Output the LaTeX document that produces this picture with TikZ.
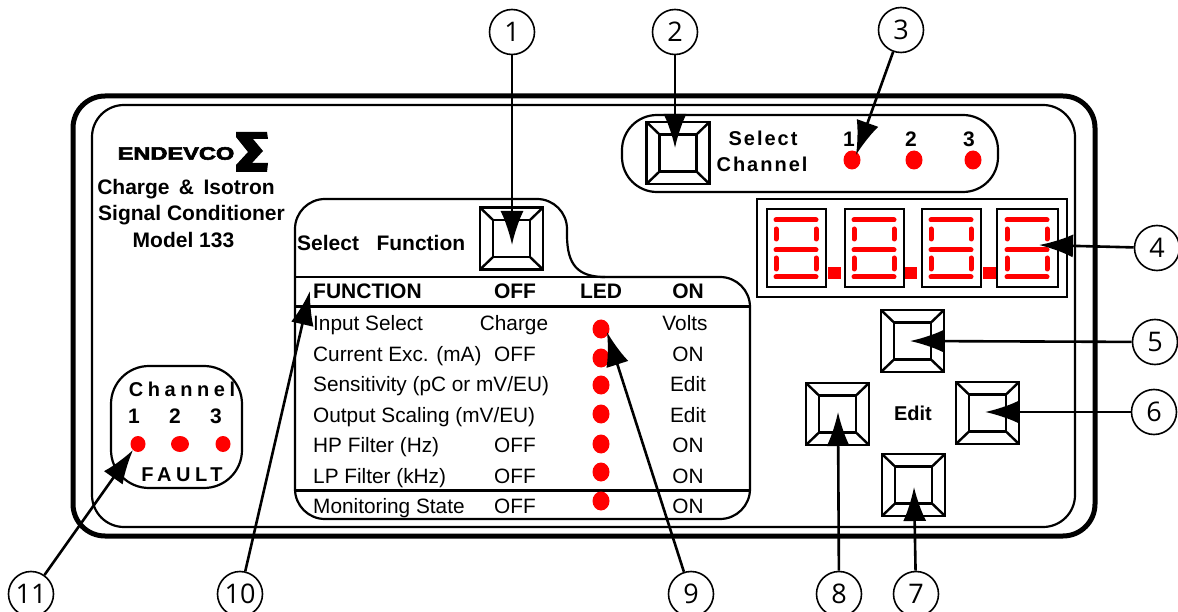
\documentclass[tikz,border=0pt]{standalone}
\usepackage{fontspec}
\setmainfont{Liberation Sans}
\newfontfamily\spacedfont[LetterSpace=10]{Liberation Sans}
\newfontfamily\widefont[LetterSpace=23]{Liberation Sans}
\newfontfamily\logofont[FakeBold=3]{Liberation Sans Bold}
\newfontfamily\calloutfont{Open Sans}
\usetikzlibrary{arrows.meta}
\tikzset{%
  pointer/.style  = {draw, line width=2.6pt, -{Latex[length=34pt,width=23pt]}},%
  callout/.style  = {circle, draw, line width=1.6pt, fill=white, inner sep=0pt,%
                     minimum size=45pt, font=\fontsize{27}{27}\selectfont\calloutfont},%
  panelline/.style = {draw, line width=2.2pt},%
  head/.style     = {inner sep=0pt, text height=15pt, text depth=0pt, font=\fontsize{21}{22}\selectfont\bfseries},%
  rowtext/.style  = {inner sep=0pt, text height=15pt, text depth=0pt, font=\fontsize{20.8}{22}\selectfont},%
  spaced/.style   = {inner sep=0pt, text height=14pt, text depth=0pt, font=\fontsize{20}{22}\selectfont\spacedfont\bfseries},%
  wide/.style     = {inner sep=0pt, text height=14pt, text depth=0pt, font=\fontsize{20}{22}\selectfont\widefont\bfseries},%
  led/.style      = {ellipse, fill=red, inner sep=0pt, minimum width=17pt, minimum height=19pt},%
  dotpoint/.style = {red, fill=red},%
  keybtn/.pic = {%
    \draw[line width=2.4pt] (-31.5,-31) rectangle (31.5,31);
    \draw[line width=2.4pt] (-18.5,-18.5) rectangle (18.5,18.5);
    \draw[line width=2.4pt] (-31.5,-31) -- (-18.5,-18.5) (31.5,-31) -- (18.5,-18.5)
      (-31.5,31) -- (-18.5,18.5) (31.5,31) -- (18.5,18.5);
  },%
  segdigit/.pic = {%
    \draw[red, line width=5pt, line cap=round]
      (-20,-30) -- (20,-30) (-20,0) -- (20,0) (-20,27) -- (20,27)
      (-20,-21) -- (-20,-11) (20,-21) -- (20,-11)
      (-20,8) -- (-20,19) (20,8) -- (20,19);
  }%
}
\usetikzlibrary{shapes.geometric}
\begin{document}
\begin{tikzpicture}[x=1pt,y=-1pt]
  \useasboundingbox (0,0) rectangle (1178,612);
  % housing
  \draw[line width=5pt,rounded corners=32] (73,96) rectangle (1095,536);
  \draw[line width=2.2pt,rounded corners=32] (92,105) rectangle (1075,527);
  % logo
  \node[inner sep=0pt,xscale=1.31,font=\fontsize{18}{18}\selectfont\logofont] (logo) at (176,153.5) {ENDEVCO};
  \fill (236,132) -- (267,132) -- (268,139) -- (253,139) -- (263,151) -- (252,163) -- (268,163)
    -- (267,172) -- (236,172) -- (236,165) -- (248,152) -- (236,137) -- cycle;
  \node[head] (charge) at (186,187) {Charge \,\&\, Isotron};
  \node[head] (signal) at (191.5,213) {Signal Conditioner};
  \node[head] (model) at (183.5,240) {Model 133};
  % select channel
  \draw[panelline,rounded corners=35] (622,115) rectangle (998,192);
  \pic at (678,153) {keybtn};
  \node[spaced] (selectch) at (763,139) {Select};
  \node[spaced] (channelch) at (762,165) {Channel};
  \node[head] (chone) at (849,139) {1};
  \node[head] (chtwo) at (911,139) {2};
  \node[head] (chthree) at (969,139) {3};
  \node[led] (ledone) at (852,160) {};
  \node[led] (ledtwo) at (914,160) {};
  \node[led] (ledthree) at (973,160) {};
  % display
  \draw[line width=2.2pt] (757,199) rectangle (1067,297);
  \draw[line width=2.2pt] (767,209) rectangle (826,287);
  \draw[line width=2.2pt] (845,209) rectangle (904,287);
  \draw[line width=2.2pt] (922,209) rectangle (981,287);
  \draw[line width=2.2pt] (997,209) rectangle (1058,287);
  \pic at (796,250) {segdigit};
  \pic at (874,250) {segdigit};
  \pic at (951,250) {segdigit};
  \pic at (1027,250) {segdigit};
  \fill[dotpoint] (828,267) rectangle (841,279);
  \fill[dotpoint] (905,267) rectangle (917,279);
  \fill[dotpoint] (983,267) rectangle (996,279);
  % edit keys
  \pic at (912.5,341) {keybtn};
  \pic at (987.5,413) {keybtn};
  \pic at (913.5,485) {keybtn};
  \pic at (837.5,414) {keybtn};
  \node[head,font=\fontsize{20}{22}\selectfont\bfseries] (edit) at (913,413) {Edit};
  % fault panel
  \draw[panelline,rounded corners=38] (111,366) rectangle (242,488);
  \node[wide] (channelf) at (182,389) {Channel};
  \node[head] (fone) at (134,416) {1};
  \node[head] (ftwo) at (175,416) {2};
  \node[head] (fthree) at (216,416) {3};
  \node[led,minimum width=15pt,minimum height=16pt] (ledfone) at (138,444) {};
  \node[led,minimum width=18pt,minimum height=16pt] (ledftwo) at (180,444) {};
  \node[led,minimum width=15pt,minimum height=16pt] (ledfthree) at (223,444) {};
  \node[wide] (fault) at (182,474) {FAULT};
  % function panel
  \draw[panelline,rounded corners=30] (567,235) -- (567,199) -- (295,199) -- (295,519) -- (750,519)
    -- (750,277) -- (600,277);
  \draw[panelline] (567,235) .. controls (567,265) and (578,277) .. (605,277);
  \draw[panelline] (295,277) -- (600,277);
  \draw[line width=3pt] (295,307) -- (750,307);
  \draw[line width=3pt] (295,490) -- (750,490);
  \node[head,anchor=west] (selectfn) at (297,243) {Select \ \ Function};
  \pic at (511.5,238.5) {keybtn};
  \node[head,anchor=west] (hfunction) at (313,291) {FUNCTION};
  \node[head] (hoff) at (515,291) {OFF};
  \node[head] (hled) at (601,291) {LED};
  \node[head] (hon) at (688,291) {ON};
  \node[rowtext,anchor=west] (rowa) at (313,323) {Input Select};
  \node[rowtext,anchor=west] (rowb) at (313,354) {Current Exc. (mA)};
  \node[rowtext,anchor=west] (rowc) at (313,384) {Sensitivity (pC or mV/EU)};
  \node[rowtext,anchor=west] (rowd) at (313,415) {Output Scaling (mV/EU)};
  \node[rowtext,anchor=west] (rowe) at (313,445) {HP Filter (Hz)};
  \node[rowtext,anchor=west] (rowf) at (313,476) {LP Filter (kHz)};
  \node[rowtext,anchor=west] (rowg) at (313,506) {Monitoring State};
  \node[rowtext] (offa) at (514,323) {Charge};
  \node[rowtext] (offb) at (515,354) {OFF};
  \node[rowtext] (offe) at (515,445) {OFF};
  \node[rowtext] (offf) at (515,476) {OFF};
  \node[rowtext] (offg) at (515,506) {OFF};
  \node[rowtext] (ona) at (685,323) {Volts};
  \node[rowtext] (onb) at (688,354) {ON};
  \node[rowtext] (onc) at (688,384) {Edit};
  \node[rowtext] (ond) at (688,415) {Edit};
  \node[rowtext] (one) at (688,445) {ON};
  \node[rowtext] (onf) at (688,476) {ON};
  \node[rowtext] (ong) at (688,506) {ON};
  \node[led] (leda) at (601,329) {};
  \node[led] (ledb) at (601,358) {};
  \node[led] (ledc) at (601,385) {};
  \node[led] (ledd) at (601,414) {};
  \node[led] (lede) at (601,444) {};
  \node[led] (ledf) at (601,472) {};
  \node[led] (ledg) at (601,501) {};
  % callouts
  \node[callout] (nI) at (512,32) {1};
  \node[callout] (nII) at (675,32) {2};
  \node[callout] (nIII) at (901,30) {3};
  \node[callout] (nIV) at (1157,248) {4};
  \node[callout] (nV) at (1155,342) {5};
  \node[callout] (nVI) at (1154,412) {6};
  \node[callout] (nVII) at (916,594) {7};
  \node[callout] (nVIII) at (839,594) {8};
  \node[callout] (nIX) at (691,594) {9};
  \node[callout] (nX) at (240,594) {10};
  \node[callout] (nXI) at (31,594) {11};
  \coordinate (tI) at (512,245);
  \coordinate (tII) at (675,148);
  \coordinate (tIII) at (856,155);
  \coordinate (tIV) at (1039,245);
  \coordinate (tV) at (910,341);
  \coordinate (tVI) at (985,412);
  \coordinate (tVII) at (914,487);
  \coordinate (tVIII) at (838,412);
  \coordinate (tIX) at (607,332);
  \coordinate (tX) at (310,291);
  \coordinate (tXI) at (133,450);
  \draw[pointer] (nI) -- (tI);
  \draw[pointer] (nII) -- (tII);
  \draw[pointer] (nIII) -- (tIII);
  \draw[pointer] (nIV) -- (tIV);
  \draw[pointer] (nV) -- (tV);
  \draw[pointer] (nVI) -- (tVI);
  \draw[pointer] (nVII) -- (tVII);
  \draw[pointer] (nVIII) -- (tVIII);
  \draw[pointer] (nIX) -- (tIX);
  \draw[pointer] (nX) -- (tX);
  \draw[pointer] (nXI) -- (tXI);
\end{tikzpicture}
\end{document}
